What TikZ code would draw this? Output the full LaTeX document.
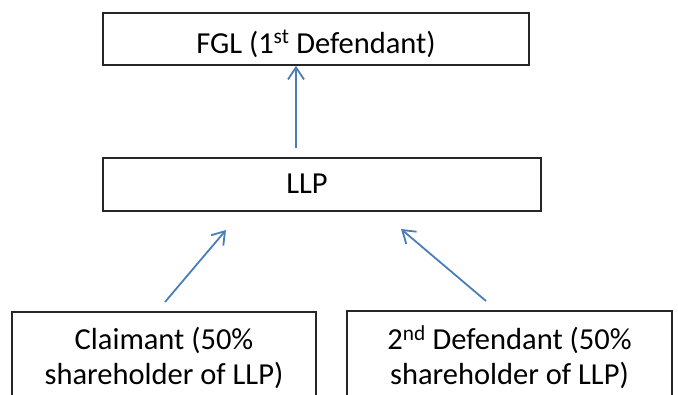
\documentclass[tikz,border=0pt]{standalone}
\usepackage{fontspec}
\setmainfont{Carlito}
\usetikzlibrary{arrows.meta}
\definecolor{arrowblue}{HTML}{4A7EBB}
\begin{document}
\begin{tikzpicture}[x=1pt,y=-1pt,
  box/.style={draw=black!85, line width=1.7pt, inner sep=0pt, align=center,
    font=\fontsize{30.5}{35}\selectfont},
  link/.style={draw=arrowblue, line width=1.8pt,
    -{Straight Barb[length=12pt,width=16pt,line width=1.8pt]}}
]
\useasboundingbox (0,0) rectangle (678,394);
\clip (0,0) rectangle (678,394);
\node[box, minimum width=426pt, minimum height=52pt, text height=28pt, text depth=0pt]
  (fgl) at (316,39) {FGL (1\textsuperscript{st} Defendant)};
\node[box, minimum width=438pt, minimum height=53pt, text height=20pt, text depth=3pt]
  (llp) at (322,184.5) {LLP\hspace*{30pt}};
\node[box, minimum width=304pt, minimum height=93pt, anchor=north]
  (claim) at (164,311) {Claimant (50\%\\shareholder of LLP)};
\node[box, minimum width=325pt, minimum height=93pt, anchor=north]
  (def2) at (509.5,310) {2\textsuperscript{nd} Defendant (50\%\\shareholder of LLP)};
\coordinate (t1) at (296,148);
\coordinate (l1) at (165,302);
\coordinate (l2) at (226,230);
\coordinate (r1) at (486,301);
\coordinate (r2) at (401,229);
\draw[link] (t1) -- (t1 |- fgl.south);
\draw[link] (l1) -- (l2);
\draw[link] (r1) -- (r2);
\end{tikzpicture}
\end{document}
